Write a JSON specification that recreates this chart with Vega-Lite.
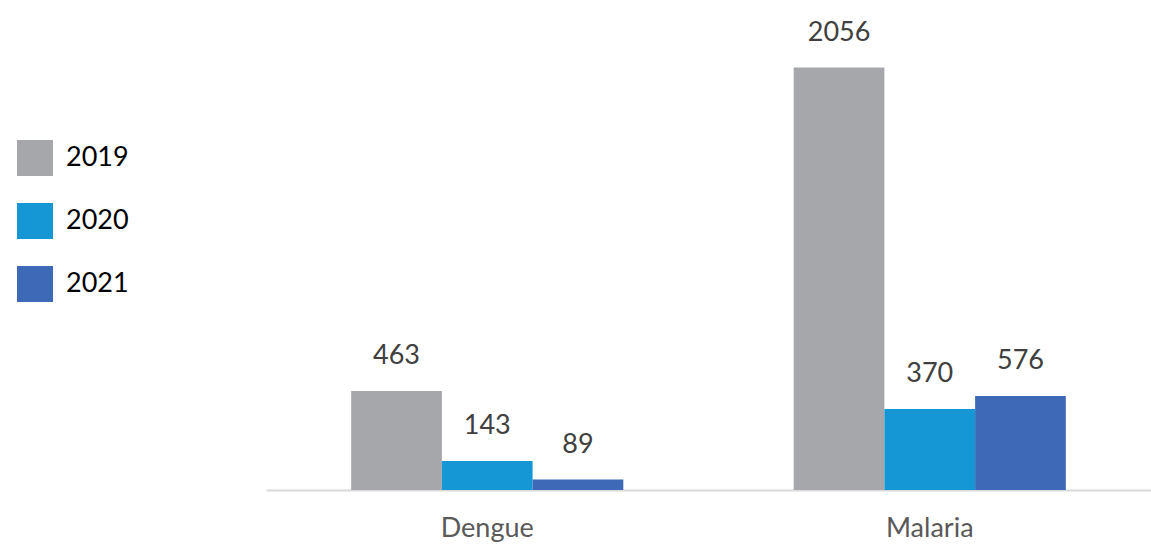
{
  "$schema": "https://vega.github.io/schema/vega-lite/v6.json",
  "width": 885,
  "height": 489,
  "autosize": {"type": "none"},
  "padding": {"left": 266, "top": 1, "right": 0, "bottom": 54},
  "background": "white",
  "config": {"view": {"stroke": null}, "font": "Lato"},
  "data": {
    "values": [
      {"disease": "Dengue", "year": "2019", "cases": 482, "label": "463"},
      {"disease": "Dengue", "year": "2020", "cases": 141, "label": "143"},
      {"disease": "Dengue", "year": "2021", "cases": 51, "label": "89"},
      {"disease": "Malaria", "year": "2019", "cases": 2056, "label": "2056"},
      {"disease": "Malaria", "year": "2020", "cases": 394, "label": "370"},
      {"disease": "Malaria", "year": "2021", "cases": 458, "label": "576"}
    ]
  },
  "encoding": {
    "x": {
      "field": "disease",
      "type": "nominal",
      "scale": {"paddingInner": 0.385, "paddingOuter": 0.1925},
      "axis": {
        "title": null,
        "labelAngle": 0,
        "labelFontSize": 27,
        "labelColor": "#595959",
        "labelBaseline": "alphabetic",
        "labelPadding": 46,
        "ticks": false,
        "domainColor": "#D9D9D9",
        "domainWidth": 2,
        "grid": false
      }
    },
    "xOffset": {"field": "year", "type": "nominal", "scale": {"paddingInner": 0, "paddingOuter": 0}},
    "y": {
      "field": "cases",
      "type": "quantitative",
      "scale": {"domain": [0, 2380]},
      "axis": null
    }
  },
  "layer": [
    {
      "mark": {"type": "bar"},
      "encoding": {
        "color": {
          "field": "year",
          "type": "nominal",
          "scale": {"domain": ["2019", "2020", "2021"], "range": ["#A6A7AA", "#1697D5", "#3E69B6"]},
          "legend": {
            "title": null,
            "orient": "none",
            "legendX": -249,
            "legendY": 139,
            "symbolType": "square",
            "symbolSize": 1296,
            "symbolStrokeWidth": 0,
            "symbolOpacity": 1,
            "labelFontSize": 27,
            "labelColor": "#000000",
            "labelOffset": 13,
            "rowPadding": 27,
            "labelBaseline": "middle"
          }
        }
      }
    },
    {
      "mark": {"type": "text", "dy": -27, "baseline": "alphabetic", "fontSize": 27, "color": "#404040"},
      "encoding": {"text": {"field": "label"}}
    }
  ]
}
